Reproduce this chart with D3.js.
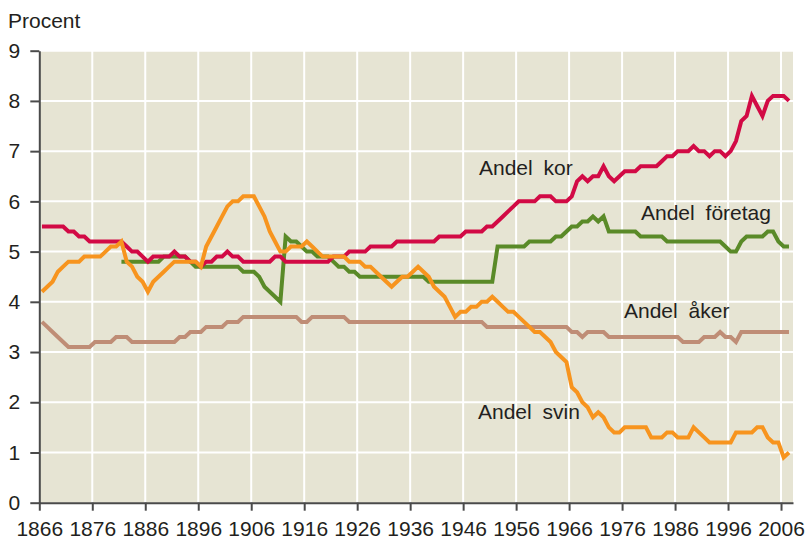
<!DOCTYPE html>
<html>
<head>
<meta charset="utf-8">
<script src="https://cdn.jsdelivr.net/npm/d3@7"></script>
<style>
  body { margin: 0; background: #fff; }
  svg { display: block; font-family: "Liberation Sans", Arial, sans-serif; }
</style>
</head>
<body>
<svg id="chart" width="806" height="539"></svg>
<script>
const width = 806, height = 539;
const svg = d3.select("#chart");

// one value per year, 1866-2007
const years = d3.range(1866, 2008);
const xTicks = [1866, 1876, 1886, 1896, 1906, 1916, 1926, 1936, 1946, 1956, 1966, 1976, 1986, 1996, 2006];
const yTicks = [0, 1, 2, 3, 4, 5, 6, 7, 8, 9];

const andelKor = [
  5.5, 5.5, 5.5, 5.5, 5.5, 5.4, 5.4, 5.3, 5.3, 5.2,
  5.2, 5.2, 5.2, 5.2, 5.2, 5.2, 5.1, 5.0, 5.0, 4.9,
  4.8, 4.9, 4.9, 4.9, 4.9, 5.0, 4.9, 4.9, 4.8, 4.8,
  4.7, 4.8, 4.8, 4.9, 4.9, 5.0, 4.9, 4.9, 4.8, 4.8,
  4.8, 4.8, 4.8, 4.8, 4.9, 4.9, 4.8, 4.8, 4.8, 4.8,
  4.8, 4.8, 4.8, 4.8, 4.8, 4.9, 4.9, 4.9, 5.0, 5.0,
  5.0, 5.0, 5.1, 5.1, 5.1, 5.1, 5.1, 5.2, 5.2, 5.2,
  5.2, 5.2, 5.2, 5.2, 5.2, 5.3, 5.3, 5.3, 5.3, 5.3,
  5.4, 5.4, 5.4, 5.4, 5.5, 5.5, 5.6, 5.7, 5.8, 5.9,
  6.0, 6.0, 6.0, 6.0, 6.1, 6.1, 6.1, 6.0, 6.0, 6.0,
  6.1, 6.4, 6.5, 6.4, 6.5, 6.5, 6.7, 6.5, 6.4, 6.5,
  6.6, 6.6, 6.6, 6.7, 6.7, 6.7, 6.7, 6.8, 6.9, 6.9,
  7.0, 7.0, 7.0, 7.1, 7.0, 7.0, 6.9, 7.0, 7.0, 6.9,
  7.0, 7.2, 7.6, 7.7, 8.1, 7.9, 7.7, 8.0, 8.1, 8.1,
  8.1, 8.0
];

const andelForetag = [
  null, null, null, null, null, null, null, null, null, null,
  null, null, null, null, null, 4.8, 4.8, 4.8, 4.8, 4.8,
  4.8, 4.8, 4.8, 4.9, 4.9, 4.9, 4.9, 4.9, 4.8, 4.7,
  4.7, 4.7, 4.7, 4.7, 4.7, 4.7, 4.7, 4.7, 4.6, 4.6,
  4.6, 4.5, 4.3, 4.2, 4.1, 4.0, 5.3, 5.2, 5.2, 5.1,
  5.0, 5.0, 4.9, 4.9, 4.9, 4.8, 4.7, 4.7, 4.6, 4.6,
  4.5, 4.5, 4.5, 4.5, 4.5, 4.5, 4.5, 4.5, 4.5, 4.5,
  4.5, 4.5, 4.5, 4.4, 4.4, 4.4, 4.4, 4.4, 4.4, 4.4,
  4.4, 4.4, 4.4, 4.4, 4.4, 4.4, 5.1, 5.1, 5.1, 5.1,
  5.1, 5.1, 5.2, 5.2, 5.2, 5.2, 5.2, 5.3, 5.3, 5.4,
  5.5, 5.5, 5.6, 5.6, 5.7, 5.6, 5.7, 5.4, 5.4, 5.4,
  5.4, 5.4, 5.4, 5.3, 5.3, 5.3, 5.3, 5.3, 5.2, 5.2,
  5.2, 5.2, 5.2, 5.2, 5.2, 5.2, 5.2, 5.2, 5.2, 5.1,
  5.0, 5.0, 5.2, 5.3, 5.3, 5.3, 5.3, 5.4, 5.4, 5.2,
  5.1, 5.1
];

const andelAker = [
  3.6, 3.5, 3.4, 3.3, 3.2, 3.1, 3.1, 3.1, 3.1, 3.1,
  3.2, 3.2, 3.2, 3.2, 3.3, 3.3, 3.3, 3.2, 3.2, 3.2,
  3.2, 3.2, 3.2, 3.2, 3.2, 3.2, 3.3, 3.3, 3.4, 3.4,
  3.4, 3.5, 3.5, 3.5, 3.5, 3.6, 3.6, 3.6, 3.7, 3.7,
  3.7, 3.7, 3.7, 3.7, 3.7, 3.7, 3.7, 3.7, 3.7, 3.6,
  3.6, 3.7, 3.7, 3.7, 3.7, 3.7, 3.7, 3.7, 3.6, 3.6,
  3.6, 3.6, 3.6, 3.6, 3.6, 3.6, 3.6, 3.6, 3.6, 3.6,
  3.6, 3.6, 3.6, 3.6, 3.6, 3.6, 3.6, 3.6, 3.6, 3.6,
  3.6, 3.6, 3.6, 3.6, 3.5, 3.5, 3.5, 3.5, 3.5, 3.5,
  3.5, 3.5, 3.5, 3.5, 3.5, 3.5, 3.5, 3.5, 3.5, 3.5,
  3.4, 3.4, 3.3, 3.4, 3.4, 3.4, 3.4, 3.3, 3.3, 3.3,
  3.3, 3.3, 3.3, 3.3, 3.3, 3.3, 3.3, 3.3, 3.3, 3.3,
  3.3, 3.2, 3.2, 3.2, 3.2, 3.3, 3.3, 3.3, 3.4, 3.3,
  3.3, 3.2, 3.4, 3.4, 3.4, 3.4, 3.4, 3.4, 3.4, 3.4,
  3.4, 3.4
];

const andelSvin = [
  4.2, 4.3, 4.4, 4.6, 4.7, 4.8, 4.8, 4.8, 4.9, 4.9,
  4.9, 4.9, 5.0, 5.1, 5.1, 5.2, 4.8, 4.7, 4.5, 4.4,
  4.2, 4.4, 4.5, 4.6, 4.7, 4.8, 4.8, 4.8, 4.8, 4.8,
  4.7, 5.1, 5.3, 5.5, 5.7, 5.9, 6.0, 6.0, 6.1, 6.1,
  6.1, 5.9, 5.7, 5.4, 5.2, 5.0, 5.0, 5.1, 5.1, 5.1,
  5.2, 5.1, 5.0, 4.9, 4.9, 4.9, 4.9, 4.9, 4.8, 4.8,
  4.8, 4.7, 4.7, 4.6, 4.5, 4.4, 4.3, 4.4, 4.5, 4.5,
  4.6, 4.7, 4.6, 4.5, 4.3, 4.2, 4.1, 3.9, 3.7, 3.8,
  3.8, 3.9, 3.9, 4.0, 4.0, 4.1, 4.0, 3.9, 3.8, 3.8,
  3.7, 3.6, 3.5, 3.4, 3.4, 3.3, 3.2, 3.0, 2.9, 2.8,
  2.3, 2.2, 2.0, 1.9, 1.7, 1.8, 1.7, 1.5, 1.4, 1.4,
  1.5, 1.5, 1.5, 1.5, 1.5, 1.3, 1.3, 1.3, 1.4, 1.4,
  1.3, 1.3, 1.3, 1.5, 1.4, 1.3, 1.2, 1.2, 1.2, 1.2,
  1.2, 1.4, 1.4, 1.4, 1.4, 1.5, 1.5, 1.3, 1.2, 1.2,
  0.9, 1.0
];

// drawing order: svin ends up on top
const series = [
  { name: "Andel åker", values: andelAker, color: "#bf8d76", lx: 624, ly: 318 },
  { name: "Andel företag", values: andelForetag, color: "#5a8a28", lx: 641, ly: 220 },
  { name: "Andel kor", values: andelKor, color: "#d20a45", lx: 479, ly: 175 },
  { name: "Andel svin", values: andelSvin, color: "#f7941e", lx: 478, ly: 419 }
];

const x = d3.scaleLinear().domain([1866, 2008.26]).range([39.3, 793]);
const y = d3.scaleLinear().domain([0, 9]).range([502.7, 50.7]);

const axisColor = "#4a4a4a";
const textColor = "#231f20";

// plot background
svg.append("rect")
  .attr("x", x(1866))
  .attr("y", y(9))
  .attr("width", x.range()[1] - x(1866))
  .attr("height", y(0) - y(9))
  .attr("fill", "#e6e4d3");

// grid
const grid = svg.append("g").attr("stroke", "#fff").attr("stroke-width", 2);
grid.selectAll("line.h")
  .data(yTicks.filter(d => d > 0))
  .join("line")
  .attr("class", "h")
  .attr("x1", x(1866)).attr("x2", x.range()[1])
  .attr("y1", d => y(d)).attr("y2", d => y(d));
grid.selectAll("line.v")
  .data(xTicks.filter(d => d > 1866))
  .join("line")
  .attr("class", "v")
  .attr("x1", d => x(d)).attr("x2", d => x(d))
  .attr("y1", y(9)).attr("y2", y(0));

// lines
const line = d3.line()
  .defined(d => d != null)
  .x((d, i) => x(years[i] + 0.5))
  .y(d => y(d));

svg.append("g")
  .selectAll("path")
  .data(series)
  .join("path")
  .attr("fill", "none")
  .attr("stroke", d => d.color)
  .attr("stroke-width", 4)
  .attr("stroke-linejoin", "miter")
  .attr("d", d => line(d.values));

// axes
const yAxis = svg.append("g")
  .attr("transform", `translate(${x(1866)},0)`)
  .call(d3.axisLeft(y).tickValues(yTicks).tickSize(9).tickSizeOuter(0).tickPadding(10));

const xAxis = svg.append("g")
  .attr("transform", `translate(0,${y(0)})`)
  .call(d3.axisBottom(x).tickValues(xTicks).tickFormat(d3.format("d")).tickSize(8).tickSizeOuter(0).tickPadding(10));

[yAxis, xAxis].forEach(g => {
  g.select(".domain").attr("stroke", axisColor).attr("stroke-width", 2);
  g.selectAll(".tick line").attr("stroke", axisColor).attr("stroke-width", 2);
  g.selectAll(".tick text")
    .attr("fill", textColor)
    .style("font-size", "21px")
    .style("font-family", "'Liberation Sans', Arial, sans-serif");
});

// unit label
svg.append("text")
  .attr("x", 8)
  .attr("y", 28)
  .attr("fill", textColor)
  .style("font-size", "21px")
  .text("Procent");

// series labels
svg.append("g")
  .selectAll("text")
  .data(series)
  .join("text")
  .attr("x", d => d.lx)
  .attr("y", d => d.ly)
  .attr("fill", textColor)
  .style("font-size", "21px")
  .style("word-spacing", "5px")
  .text(d => d.name);
</script>
</body>
</html>
